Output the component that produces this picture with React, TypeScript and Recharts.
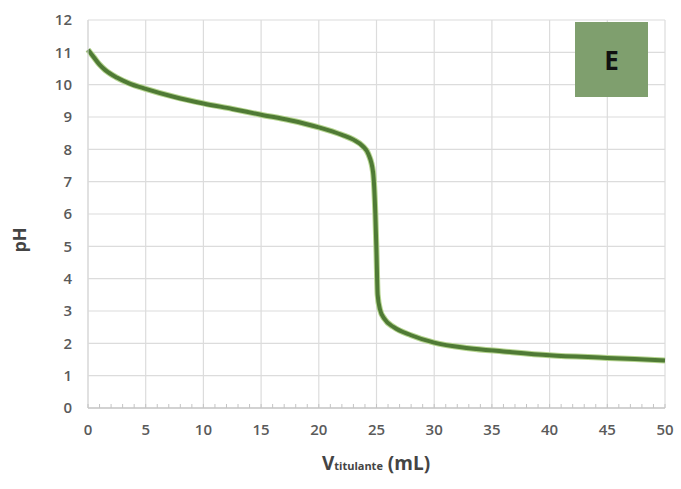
import React from "react";
import { LineChart, Line, XAxis, YAxis, CartesianGrid } from "recharts";

const volumes = [0, 0.5, 1, 1.5, 2.5, 3.5, 5, 7.5, 10, 12.5, 15, 17.5, 20, 22, 23, 23.8, 24.3, 24.7, 24.9, 25, 25.1, 25.3, 25.7, 26.5, 28, 30, 33, 36, 40, 45, 50];
const phValues = [11.08, 10.85, 10.62, 10.45, 10.22, 10.05, 9.87, 9.62, 9.42, 9.25, 9.07, 8.9, 8.68, 8.45, 8.3, 8.1, 7.85, 7.3, 6.0, 4.8, 3.5, 3.05, 2.75, 2.5, 2.25, 2.02, 1.85, 1.75, 1.63, 1.55, 1.47];
const xLabelStep = 5;
const yTicks = [0, 1, 2, 3, 4, 5, 6, 7, 8, 9, 10, 11, 12];
const xTicksAll = Array.from({ length: 51 }, (_, i) => i);
const panelLabel = "E";

const data = volumes.map((v, i) => ({ v, ph: phValues[i] }));

const font = "'Open Sans', 'Liberation Sans', sans-serif";
const TICK_MARGIN = 16;

function XTick(props: any) {
  const { x, y, payload } = props;
  const v = payload.value;
  const axisY = y - TICK_MARGIN;
  return (
    <g>
      <line x1={x} x2={x} y1={axisY} y2={axisY - 4} stroke="#c4c4c4" strokeWidth={1} />
      {v % xLabelStep === 0 ? (
        <text x={x} y={y} dy="0.71em" textAnchor="middle" fill="#5a5a5a" fontSize={15} fontFamily={font} fontWeight={600}>
          {v}
        </text>
      ) : null}
    </g>
  );
}

export default function App() {
  return (
    <div style={{ position: "absolute", left: 0, top: 0, width: 681, height: 489, background: "#fff", fontFamily: font }}>
      <LineChart width={681} height={489} data={data} margin={{ top: 20, right: 16, bottom: 0, left: 0 }}>
        <CartesianGrid stroke="#dcdcdc" strokeWidth={1.2} verticalPoints={undefined} verticalValues={[0, 5, 10, 15, 20, 25, 30, 35, 40, 45, 50]} />
        <XAxis
          dataKey="v"
          type="number"
          domain={[0, 50]}
          ticks={xTicksAll}
          interval={0}
          tickSize={0}
          tickMargin={TICK_MARGIN}
          axisLine={{ stroke: "#c8c8c8", strokeWidth: 1.5 }}
          tick={<XTick />}
          height={81}
        />
        <YAxis
          type="number"
          domain={[0, 12]}
          ticks={yTicks}
          width={88}
          tickSize={0}
          tickMargin={16}
          axisLine={{ stroke: "#d8d8d8" }}
          tick={{ fill: "#5a5a5a", fontSize: 15, fontFamily: font, fontWeight: 600 }}
        />
        <Line
          type="monotone"
          dataKey="ph"
          stroke="#b5d48f"
          strokeWidth={6}
          dot={false}
          isAnimationActive={false}
        />
        <Line
          type="monotone"
          dataKey="ph"
          stroke="#4f7a35"
          strokeWidth={4}
          dot={false}
          isAnimationActive={false}
        />
      </LineChart>
      <div
        style={{
          position: "absolute",
          left: 575,
          top: 22,
          width: 73,
          height: 75,
          background: "#7f9f6e",
          display: "flex",
          alignItems: "center",
          justifyContent: "center",
          fontWeight: "bold",
          fontSize: 26,
          color: "#111",
          fontFamily: font,
        }}
      >
        {panelLabel}
      </div>
      <div
        style={{
          position: "absolute",
          left: 4,
          top: 240,
          transform: "translate(0,-50%) rotate(-90deg)",
          fontWeight: "bold",
          fontSize: 18,
          color: "#444",
          width: 30,
          textAlign: "center",
        }}
      >
        pH
      </div>
      <div
        style={{
          position: "absolute",
          left: 0,
          width: 752,
          top: 450,
          textAlign: "center",
          fontWeight: "bold",
          fontSize: 19,
          color: "#444",
        }}
      >
        V<span style={{ fontSize: 11 }}>titulante</span> (mL)
      </div>
    </div>
  );
}
